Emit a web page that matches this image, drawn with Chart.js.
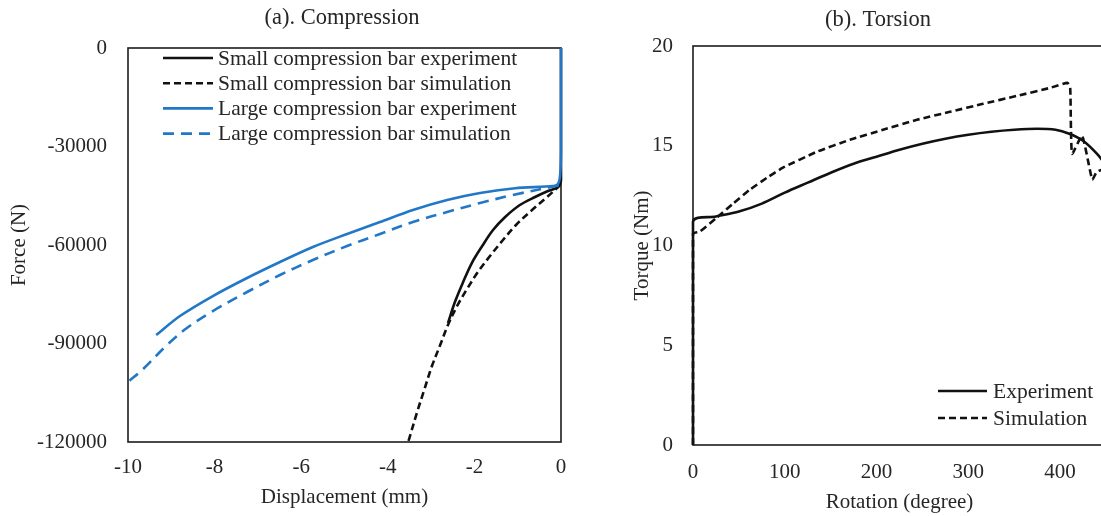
<!DOCTYPE html>
<html><head><meta charset="utf-8">
<script src="https://cdn.jsdelivr.net/npm/chart.js@4.4.1/dist/chart.umd.min.js"></script>
<style>
html,body{margin:0;padding:0;background:#fff;overflow:hidden;width:1101px;height:516px;position:relative}
#ca{position:absolute;left:0;top:0}
#cb{position:absolute;left:600px;top:0}
</style></head><body>
<canvas id="ca" width="600" height="516"></canvas>
<canvas id="cb" width="520" height="516"></canvas>
<script>
// ---------- (a) Compression data ----------
const titleA = "(a). Compression";
const xTitleA = "Displacement (mm)";
const yTitleA = "Force (N)";
const xTicksA = [-10, -8, -6, -4, -2, 0];
const yTicksA = [-120000, -90000, -60000, -30000, 0];

const smallExpX = [0, 0, -0.07, -0.30, -0.60, -0.95, -1.29, -1.57, -1.82, -2.06, -2.26, -2.45, -2.61];
const smallExpY = [0, -40200, -42340, -43560, -45380, -47820, -51470, -55430, -60310, -65490, -71270, -77360, -83760];

const smallSimX = [-0.02, -0.07, -0.32, -0.72, -1.04, -1.34, -1.64, -1.92, -2.17, -2.40, -2.61, -2.79, -2.98, -3.16, -3.33, -3.46, -3.53];
const smallSimY = [-41500, -42340, -45380, -49950, -53910, -58480, -63350, -68230, -73410, -78580, -84370, -90460, -96860, -104170, -111170, -116960, -120000];

const largeExpX = [0, 0, -0.02, -0.07, -0.18, -1.06, -1.87, -2.63, -3.42, -4.18, -4.94, -5.73, -6.49, -7.25, -8.04, -8.80, -9.35];
const largeExpY = [0, -31070, -38680, -41420, -42030, -42700, -44170, -46300, -49350, -53000, -56650, -60610, -65180, -70050, -75540, -81630, -87420];

const largeSimX = [-0.05, -0.18, -1.11, -1.87, -2.63, -3.42, -4.18, -4.94, -5.73, -6.49, -7.25, -8.04, -8.64, -9.10, -9.65, -10];
const largeSimY = [-41800, -42200, -44770, -47210, -49950, -53000, -56650, -60310, -64570, -69140, -74320, -80110, -85290, -90460, -97770, -101730];

const labelsA = ["Small compression bar experiment", "Small compression bar simulation", "Large compression bar experiment", "Large compression bar simulation"];

// ---------- (b) Torsion data ----------
const titleB = "(b). Torsion";
const xTitleB = "Rotation (degree)";
const yTitleB = "Torque (Nm)";
const xTicksB = [0, 100, 200, 300, 400];
const yTicksB = [0, 5, 10, 15, 20];

const expRotX = [0, 0, 25, 50, 75, 100, 125, 150, 175, 200, 225, 250, 275, 300, 325, 350, 375, 395, 410, 425, 440, 452];
const expTorY = [0, 11.2, 11.45, 11.7, 12.1, 12.65, 13.15, 13.65, 14.1, 14.45, 14.8, 15.1, 15.35, 15.55, 15.7, 15.8, 15.85, 15.8, 15.6, 15.25, 14.6, 13.9];

const simRotX = [0, 0, 7.6, 26, 43.6, 62, 80.7, 98, 135, 171, 207, 244, 280, 316, 353, 389, 408, 411, 413, 424, 435, 440, 446, 452];
const simTorY = [0, 10.6, 10.7, 11.4, 12.1, 12.8, 13.4, 13.9, 14.7, 15.3, 15.8, 16.3, 16.7, 17.1, 17.5, 17.9, 18.15, 17.9, 14.6, 15.5, 13.3, 13.7, 13.8, 13.8];

const labelsB = ["Experiment", "Simulation"];

// ---------- helpers ----------
const FONT = "'Liberation Serif','Times New Roman',serif";
const TXT = '#262626';
const BLUE = '#2278c6';
const pts = (xs, ys) => xs.map((x, i) => ({x: x, y: ys[i]}));

function decor(cfg) {
  return {
    id: 'decor',
    beforeDatasetsDraw(chart) {
      const {ctx, chartArea: a} = chart;
      ctx.save();
      ctx.strokeStyle = '#1c1c1c';
      ctx.lineWidth = 1.6;
      ctx.strokeRect(a.left, a.top, a.right - a.left, a.bottom - a.top);
      ctx.restore();
    },
    afterDraw(chart) {
      const ctx = chart.ctx;
      ctx.save();
      ctx.fillStyle = TXT;
      ctx.font = '22.5px ' + FONT;
      ctx.textAlign = 'center';
      ctx.textBaseline = 'middle';
      ctx.fillText(cfg.title, cfg.titleX, cfg.titleY);
      ctx.font = '21.5px ' + FONT;
      ctx.textAlign = 'left';
      cfg.legend.forEach((idx, r) => {
        const ds = chart.data.datasets[idx];
        const y = cfg.legY + r * cfg.legStep;
        ctx.beginPath();
        ctx.strokeStyle = ds.borderColor;
        ctx.lineWidth = ds.borderWidth;
        ctx.setLineDash(ds.borderDash || []);
        ctx.moveTo(cfg.legX0, y);
        ctx.lineTo(cfg.legX1, y);
        ctx.stroke();
        ctx.setLineDash([]);
        ctx.fillStyle = TXT;
        ctx.fillText(ds.label, cfg.legTx, y + 1);
      });
      ctx.restore();
    }
  };
}

function scaleCommon(ticksArr, w, h, pad, titleText, titlePad, isX, extra) {
  const o = {
    type: 'linear',
    grid: {display: false, drawTicks: false},
    border: {display: false},
    ticks: {
      color: TXT, font: {family: FONT, size: 21}, padding: pad,
      autoSkip: false, maxRotation: 0,
      callback: v => String(v)
    },
    afterBuildTicks: s => { s.ticks = ticksArr.map(v => ({value: v})); },
    afterFit: s => { if (isX) s.height = h; else s.width = w; },
    title: {display: true, text: titleText, color: TXT, font: {family: FONT, size: 21}, padding: titlePad}
  };
  return Object.assign(o, extra);
}

// ---------- chart (a) ----------
new Chart(document.getElementById('ca'), {
  type: 'line',
  data: {
    datasets: [
      {label: labelsA[0], data: pts(smallExpX, smallExpY), borderColor: '#111', borderWidth: 2.6, order: 2, tension: 0.35},
      {label: labelsA[1], data: pts(smallSimX, smallSimY), borderColor: '#111', borderWidth: 2.6, borderDash: [7, 4], order: 3, tension: 0.35},
      {label: labelsA[2], data: pts(largeExpX, largeExpY), borderColor: BLUE, borderWidth: 2.6, order: 0, tension: 0.3},
      {label: labelsA[3], data: pts(largeSimX, largeSimY), borderColor: BLUE, borderWidth: 2.6, borderDash: [11, 7], order: 1, tension: 0.35}
    ]
  },
  options: {
    responsive: false, animation: false, devicePixelRatio: 1,
    elements: {point: {radius: 0}, line: {borderCapStyle: 'butt', capBezierPoints: true}},
    datasets: {line: {clip: 4}},
    layout: {padding: {left: 0, right: 39, top: 48, bottom: 0}},
    plugins: {legend: {display: false}, tooltip: {enabled: false}},
    scales: {
      x: scaleCommon(xTicksA, 0, 74, 13, xTitleA, {top: 0, bottom: 6}, true, {min: -10, max: 0}),
      y: scaleCommon(yTicksA, 128, 0, 21, yTitleA, {top: 7, bottom: 0}, false, {min: -120000, max: 0})
    }
  },
  plugins: [decor({title: titleA, titleX: 342, titleY: 18, legend: [0, 1, 2, 3], legX0: 163, legX1: 213, legTx: 218, legY: 58, legStep: 25.2})]
});

// ---------- chart (b) ----------
new Chart(document.getElementById('cb'), {
  type: 'line',
  data: {
    datasets: [
      {label: labelsB[0], data: pts(expRotX, expTorY), borderColor: '#111', borderWidth: 2.6, tension: 0.3},
      {label: labelsB[1], data: pts(simRotX, simTorY), borderColor: '#111', borderWidth: 2.6, borderDash: [7, 4], tension: 0.15}
    ]
  },
  options: {
    responsive: false, animation: false, devicePixelRatio: 1,
    elements: {point: {radius: 0}, line: {borderCapStyle: 'butt', capBezierPoints: true}},
    datasets: {line: {clip: 4}},
    layout: {padding: {left: 0, right: 14, top: 46, bottom: 0}},
    plugins: {legend: {display: false}, tooltip: {enabled: false}},
    scales: {
      x: scaleCommon(xTicksB, 0, 71, 15, xTitleB, {top: 0, bottom: 1}, true, {min: 0, max: 450}),
      y: scaleCommon(yTicksB, 93, 0, 20, yTitleB, {top: 30, bottom: 0}, false, {min: 0, max: 20})
    }
  },
  plugins: [decor({title: titleB, titleX: 278, titleY: 20, legend: [0, 1], legX0: 338, legX1: 387, legTx: 393, legY: 391, legStep: 27})]
});
</script>
</body></html>
